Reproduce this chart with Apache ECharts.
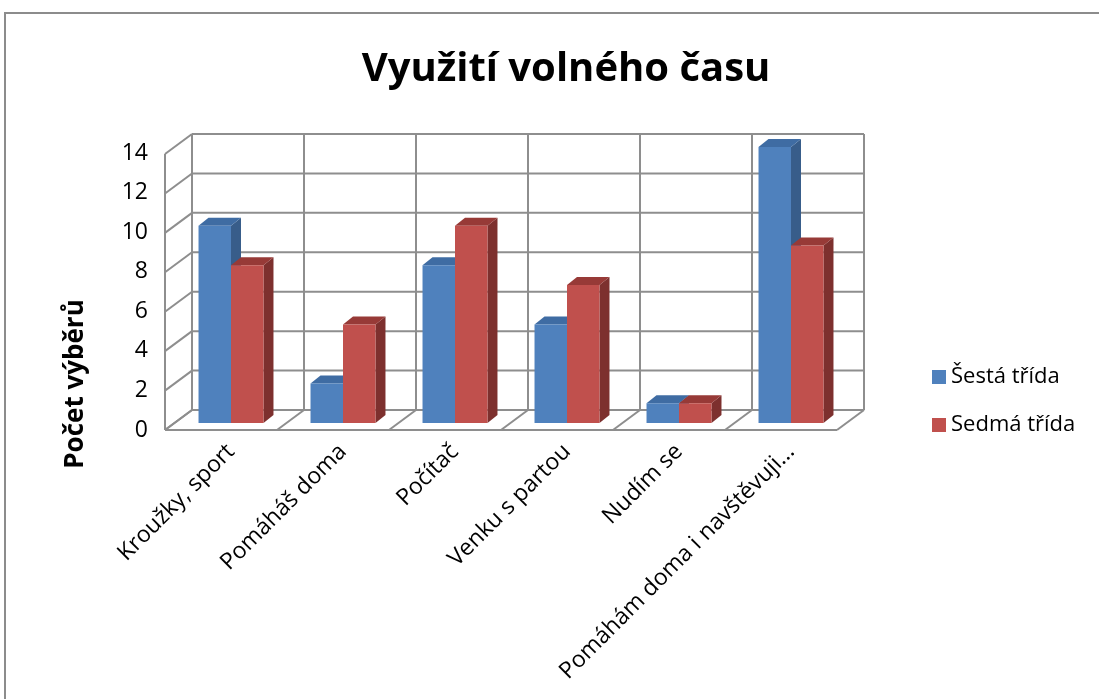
<!DOCTYPE html>
<html>
<head>
<meta charset="utf-8">
<title>Využití volného času</title>
<script src="https://cdn.jsdelivr.net/npm/echarts@6/dist/echarts.min.js"></script>
<style>
  html, body { margin: 0; padding: 0; background: #fff; }
  #main { width: 1099px; height: 699px; }
</style>
</head>
<body>
<div id="main"></div>
<script>
var categories = ["Kroužky, sport", "Pomáháš doma", "Počítač", "Venku s partou", "Nudím se", "Pomáhám doma i navštěvuji..."];
var sesta = [10, 2, 8, 5, 1, 14];
var sedma = [8, 5, 10, 7, 1, 9];
var yTicks = [0, 2, 4, 6, 8, 10, 12, 14];
var boundaries = [0, 1, 2, 3, 4, 5, 6];

var FONT = "'Open Sans', sans-serif";
// posun zadni steny a predni hrany vuci rovine sloupcu (px)
var BACK = [17, -13];
var FRONT = [-10, 7];
var DEPTH = [10, -8]; // hloubka sloupce
var GRID_COLOR = '#8e8e8e';

var myChart = echarts.init(document.getElementById('main'));

function line(x1, y1, x2, y2) {
  return {
    type: 'line',
    shape: { x1: x1, y1: y1, x2: x2, y2: y2 },
    style: { stroke: GRID_COLOR, lineWidth: 2 },
    silent: true
  };
}

// vodorovne cary: leva stena + zadni stena
function renderTick(params, api) {
  var cs = params.coordSys;
  var y = api.coord([0, api.value(1)])[1];
  var children = [
    line(cs.x + FRONT[0], y + FRONT[1], cs.x + BACK[0], y + BACK[1]),
    line(cs.x + BACK[0], y + BACK[1], cs.x + cs.width + BACK[0], y + BACK[1])
  ];
  if (api.value(1) === 0) {
    children.push(line(cs.x + FRONT[0], y + FRONT[1], cs.x + cs.width + FRONT[0], y + FRONT[1]));
  }
  return { type: 'group', children: children };
}

// svisle cary zadni steny + diagonaly na podlaze
function renderBoundary(params, api) {
  var cs = params.coordSys;
  var k = api.value(2);
  var x = cs.x + k * cs.width / categories.length;
  var y0 = api.coord([0, 0])[1];
  var yTop = api.coord([0, yTicks[yTicks.length - 1]])[1];
  var children = [
    line(x + BACK[0], y0 + BACK[1], x + BACK[0], yTop + BACK[1]),
    line(x + FRONT[0], y0 + FRONT[1], x + BACK[0], y0 + BACK[1])
  ];
  if (k === 0) {
    children.push(line(x + FRONT[0], y0 + FRONT[1], x + FRONT[0], yTop + FRONT[1]));
  }
  return { type: 'group', children: children };
}

function makeBar(side, colors) {
  return function (params, api) {
    var top = api.coord([api.value(0), api.value(1)]);
    var base = api.coord([api.value(0), 0]);
    var bw = api.size([1, 0])[0] * 0.29;
    var x0 = side === 0 ? top[0] - bw : top[0];
    var x1 = x0 + bw;
    var yt = top[1], yb = base[1];
    var dx = DEPTH[0], dy = DEPTH[1];
    return {
      type: 'group',
      children: [
        { type: 'polygon', shape: { points: [[x1, yt], [x1 + dx, yt + dy], [x1 + dx, yb + dy], [x1, yb]] }, style: { fill: colors.side } },
        { type: 'polygon', shape: { points: [[x0, yt], [x0 + dx, yt + dy], [x1 + dx, yt + dy], [x1, yt]] }, style: { fill: colors.top } },
        { type: 'rect', shape: { x: x0, y: yt, width: bw, height: yb - yt }, style: { fill: colors.front } }
      ]
    };
  };
}

var blue = { front: '#4f81bd', side: '#385d8a', top: '#3f6ca3' };
var red = { front: '#c0504d', side: '#7d302e', top: '#973a37' };

var option = {
  animation: false,
  backgroundColor: '#fff',
  title: {
    text: 'Využití volného času',
    left: 561,
    top: 45,
    textAlign: 'center',
    textStyle: { fontFamily: FONT, fontSize: 40, fontWeight: 'bold', color: '#000' }
  },
  legend: {
    orient: 'vertical',
    left: 932,
    top: 366,
    padding: 0,
    itemWidth: 14,
    itemHeight: 14,
    itemGap: 26,
    icon: 'rect',
    textStyle: { fontFamily: FONT, fontSize: 22, color: '#000' },
    data: ['Šestá třída', 'Sedmá třída']
  },
  graphic: [
    {
      type: 'rect',
      shape: { x: 5, y: 13, width: 1200, height: 800 },
      style: { fill: 'none', stroke: '#8c8c8c', lineWidth: 2 },
      silent: true
    },
    {
      type: 'text',
      x: 76,
      y: 384,
      rotation: Math.PI / 2,
      style: {
        text: 'Počet výběrů',
        font: "bold 26px 'Open Sans', sans-serif",
        fill: '#000',
        align: 'center',
        verticalAlign: 'middle'
      }
    }
  ],
  grid: [
    { left: 175, top: 147, width: 672, height: 276 },
    { left: 165, top: 153, width: 672, height: 277 }
  ],
  xAxis: [
    {
      type: 'category',
      gridIndex: 0,
      data: categories,
      axisLine: { show: false },
      axisTick: { show: false },
      axisLabel: {
        interval: 0,
        rotate: 45,
        margin: 25,
        fontFamily: FONT,
        fontSize: 23,
        color: '#000'
      }
    },
    { type: 'category', gridIndex: 1, data: categories, show: false }
  ],
  yAxis: [
    { type: 'value', gridIndex: 0, min: 0, max: 14, interval: 2, show: false },
    {
      type: 'value',
      gridIndex: 1,
      min: 0,
      max: 14,
      interval: 2,
      axisLine: { show: false },
      axisTick: { show: false },
      splitLine: { show: false },
      axisLabel: { margin: 17, fontFamily: FONT, fontSize: 23, color: '#000' }
    }
  ],
  series: [
    {
      type: 'custom',
      name: 'mrizka',
      xAxisIndex: 0,
      yAxisIndex: 0,
      renderItem: renderTick,
      data: yTicks.map(function (v) { return [0, v]; }),
      z: 1,
      silent: true
    },
    {
      type: 'custom',
      name: 'hranice',
      xAxisIndex: 0,
      yAxisIndex: 0,
      renderItem: renderBoundary,
      data: boundaries.map(function (k) { return [0, 0, k]; }),
      z: 1,
      silent: true
    },
    {
      type: 'custom',
      name: 'Šestá třída',
      xAxisIndex: 0,
      yAxisIndex: 0,
      itemStyle: { color: blue.front },
      renderItem: makeBar(0, blue),
      data: sesta.map(function (v, i) { return [i, v]; }),
      z: 2
    },
    {
      type: 'custom',
      name: 'Sedmá třída',
      xAxisIndex: 0,
      yAxisIndex: 0,
      itemStyle: { color: red.front },
      renderItem: makeBar(1, red),
      data: sedma.map(function (v, i) { return [i, v]; }),
      z: 3
    }
  ]
};

myChart.setOption(option);
</script>
</body>
</html>
